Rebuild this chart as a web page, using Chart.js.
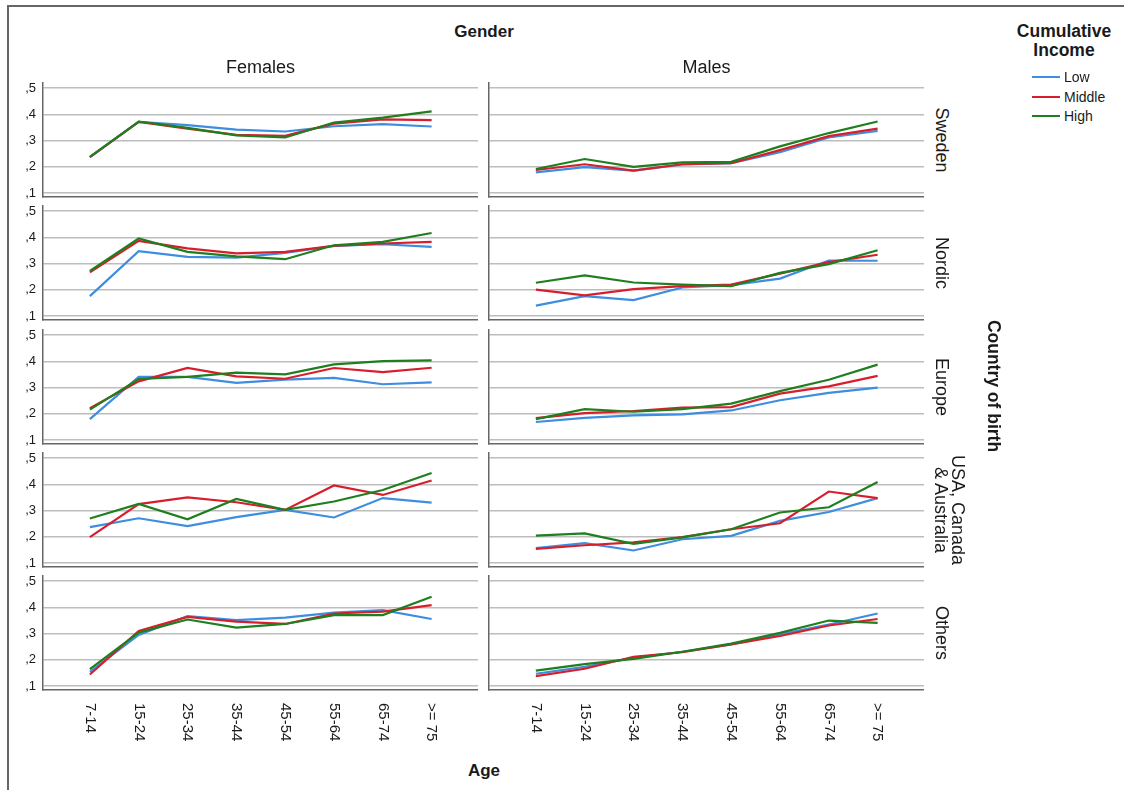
<!DOCTYPE html>
<html>
<head>
<meta charset="utf-8">
<script src="https://cdn.jsdelivr.net/npm/chart.js@4.4.1/dist/chart.umd.min.js"></script>
<style>
  body { margin: 0; width: 1130px; height: 790px; background: #fff; position: relative; overflow: hidden;
         font-family: "Liberation Sans", Arial, sans-serif; color: #1a1a1a; }
  .frame { position: absolute; left: 7px; top: 5px; width: 1115px; height: 820px;
           border-left: 2px solid #666; border-top: 2px solid #666; }
  canvas.panel { position: absolute; }
  .txt { position: absolute; white-space: nowrap; line-height: 1; }
  .ctr { transform: translate(-50%, -50%); text-align: center; }
  .rot { transform: translate(-50%, -50%) rotate(90deg); text-align: center; }
  .bold { font-weight: bold; }
  .key { position: absolute; width: 28px; height: 2px; }
</style>
</head>
<body>
<div class="frame"></div>
<div id="app"></div>

<script>
// categories
const AGE_GROUPS = ['7-14', '15-24', '25-34', '35-44', '45-54', '55-64', '65-74', '>= 75'];
const GENDERS = ['Females', 'Males'];
const COUNTRIES = ['Sweden', 'Nordic', 'Europe', 'USA, Canada\n& Australia', 'Others'];
const INCOME_LEVELS = ['Low', 'Middle', 'High'];
const Y_TICKS = [0.1, 0.2, 0.3, 0.4, 0.5];

const INCOME_COLORS = {
  Low: '#3d8ee0',
  Middle: '#d81e2c',
  High: '#1f7f1f'
};

// Sweden
const swedenF_low = [0.237, 0.372, 0.359, 0.342, 0.335, 0.355, 0.363, 0.354];
const swedenF_mid = [0.237, 0.372, 0.346, 0.322, 0.318, 0.365, 0.381, 0.378];
const swedenF_high = [0.238, 0.373, 0.349, 0.320, 0.312, 0.369, 0.388, 0.412];
const swedenM_low = [0.179, 0.199, 0.186, 0.209, 0.214, 0.256, 0.312, 0.337];
const swedenM_mid = [0.188, 0.210, 0.186, 0.210, 0.214, 0.264, 0.317, 0.346];
const swedenM_high = [0.192, 0.230, 0.200, 0.217, 0.219, 0.278, 0.329, 0.373];

// Nordic
const nordicF_low = [0.176, 0.348, 0.326, 0.323, 0.341, 0.368, 0.374, 0.364];
const nordicF_mid = [0.267, 0.387, 0.358, 0.339, 0.345, 0.368, 0.377, 0.383];
const nordicF_high = [0.272, 0.396, 0.345, 0.328, 0.317, 0.370, 0.383, 0.417];
const nordicM_low = [0.140, 0.176, 0.161, 0.209, 0.218, 0.243, 0.312, 0.311];
const nordicM_mid = [0.201, 0.179, 0.203, 0.214, 0.220, 0.262, 0.306, 0.334];
const nordicM_high = [0.227, 0.255, 0.228, 0.220, 0.214, 0.265, 0.298, 0.351];

// Europe
const europeF_low = [0.180, 0.341, 0.341, 0.318, 0.331, 0.337, 0.313, 0.320];
const europeF_mid = [0.222, 0.324, 0.375, 0.343, 0.334, 0.375, 0.359, 0.376];
const europeF_high = [0.216, 0.333, 0.341, 0.357, 0.351, 0.389, 0.401, 0.404];
const europeM_low = [0.169, 0.185, 0.194, 0.198, 0.213, 0.252, 0.280, 0.300];
const europeM_mid = [0.184, 0.203, 0.211, 0.224, 0.226, 0.277, 0.305, 0.345];
const europeM_high = [0.180, 0.218, 0.208, 0.218, 0.239, 0.287, 0.330, 0.388];

// USA, Canada & Australia
const usaF_low = [0.237, 0.271, 0.241, 0.275, 0.303, 0.274, 0.348, 0.331];
const usaF_mid = [0.199, 0.325, 0.351, 0.332, 0.303, 0.396, 0.360, 0.415];
const usaF_high = [0.270, 0.326, 0.267, 0.345, 0.303, 0.335, 0.379, 0.444];
const usaM_low = [0.157, 0.176, 0.148, 0.191, 0.204, 0.261, 0.295, 0.348];
const usaM_mid = [0.154, 0.168, 0.179, 0.199, 0.229, 0.252, 0.373, 0.348];
const usaM_high = [0.205, 0.213, 0.173, 0.198, 0.229, 0.293, 0.313, 0.409];

// Others
const othersF_low = [0.154, 0.295, 0.367, 0.352, 0.361, 0.380, 0.390, 0.356];
const othersF_mid = [0.144, 0.310, 0.364, 0.346, 0.337, 0.377, 0.384, 0.409];
const othersF_high = [0.165, 0.304, 0.354, 0.323, 0.337, 0.371, 0.371, 0.441];
const othersM_low = [0.147, 0.173, 0.208, 0.231, 0.259, 0.297, 0.335, 0.377];
const othersM_mid = [0.138, 0.166, 0.212, 0.229, 0.259, 0.291, 0.331, 0.356];
const othersM_high = [0.159, 0.184, 0.204, 0.231, 0.262, 0.303, 0.350, 0.341];

// [row][col] -> [low, middle, high]
const PANEL_DATA = [
  [[swedenF_low, swedenF_mid, swedenF_high], [swedenM_low, swedenM_mid, swedenM_high]],
  [[nordicF_low, nordicF_mid, nordicF_high], [nordicM_low, nordicM_mid, nordicM_high]],
  [[europeF_low, europeF_mid, europeF_high], [europeM_low, europeM_mid, europeM_high]],
  [[usaF_low, usaF_mid, usaF_high], [usaM_low, usaM_mid, usaM_high]],
  [[othersF_low, othersF_mid, othersF_high], [othersM_low, othersM_mid, othersM_high]]
];

// layout
const ROW_TOPS = [83, 206, 330, 453, 576];
const PLOT_H = 114;
const COLS = [
  { canvasLeft: 8, plotLeft: 43, plotRight: 478 },
  { canvasLeft: 484, plotLeft: 489, plotRight: 924 }
];
const FONT = '"Liberation Sans", Arial, sans-serif';

const app = document.getElementById('app');

function addText(text, x, y, size, cls) {
  const el = document.createElement('div');
  el.className = 'txt ' + cls;
  el.style.left = x + 'px';
  el.style.top = y + 'px';
  el.style.fontSize = size + 'px';
  el.innerHTML = text.replace(/&/g, '&amp;').replace(/>/g, '&gt;').replace(/\n/g, '<br>');
  app.appendChild(el);
  return el;
}

// age labels under the bottom row, rotated to read top-to-bottom
const xLabelPlugin = {
  id: 'xLabels',
  afterDraw(chart, args, opts) {
    if (!opts.show) return;
    const { ctx, chartArea } = chart;
    const x = chart.scales.x;
    ctx.save();
    ctx.font = '15px ' + FONT;
    ctx.fillStyle = '#1a1a1a';
    ctx.textAlign = 'left';
    ctx.textBaseline = 'middle';
    AGE_GROUPS.forEach((lab, i) => {
      ctx.save();
      ctx.translate(x.getPixelForValue(i), chartArea.bottom + 13);
      ctx.rotate(Math.PI / 2);
      ctx.fillText(lab, 0, 0);
      ctx.restore();
    });
    ctx.restore();
  }
};

function makePanel(row, col) {
  const c = COLS[col];
  const padTop = 10;
  const padBottom = row === ROW_TOPS.length - 1 ? 70 : 3;
  const canvas = document.createElement('canvas');
  canvas.className = 'panel';
  canvas.width = c.plotRight - c.canvasLeft;
  canvas.height = PLOT_H + padTop + padBottom;
  canvas.style.left = c.canvasLeft + 'px';
  canvas.style.top = (ROW_TOPS[row] - padTop) + 'px';
  app.appendChild(canvas);

  const series = PANEL_DATA[row][col];
  const datasets = INCOME_LEVELS.map((level, k) => ({
    label: level,
    data: series[k].map((v, i) => ({ x: i, y: v })),
    borderColor: INCOME_COLORS[level],
    backgroundColor: INCOME_COLORS[level],
    borderWidth: 2.2,
    pointRadius: 0,
    tension: 0,
    order: INCOME_LEVELS.length - k
  }));

  new Chart(canvas, {
    type: 'line',
    data: { datasets },
    options: {
      responsive: false,
      animation: false,
      events: [],
      layout: { padding: { top: padTop, bottom: padBottom, left: 0, right: 0 } },
      plugins: {
        legend: { display: false },
        tooltip: { enabled: false },
        xLabels: { show: row === ROW_TOPS.length - 1 }
      },
      scales: {
        x: {
          type: 'linear',
          min: -0.96,
          max: 7.95,
          grid: { display: false },
          border: { display: true, color: '#666', width: 1.5 },
          ticks: { display: false },
          afterFit: s => { s.height = 0; s.paddingLeft = 0; s.paddingRight = 0; }
        },
        y: {
          min: 0.085,
          max: 0.52,
          afterBuildTicks: s => { s.ticks = Y_TICKS.map(v => ({ value: v })); },
          grid: { color: '#bdbdbd', lineWidth: 1.5, drawTicks: false },
          border: { display: true, color: '#666', width: 1.5 },
          ticks: {
            display: col === 0,
            padding: 7,
            color: '#1a1a1a',
            font: { family: FONT, size: 13 },
            callback: v => ',' + Math.round(v * 10)
          },
          afterFit: s => { s.width = c.plotLeft - c.canvasLeft; s.paddingTop = 0; s.paddingBottom = 0; }
        }
      }
    },
    plugins: [xLabelPlugin]
  });
}

for (let r = 0; r < ROW_TOPS.length; r++) {
  for (let col = 0; col < COLS.length; col++) makePanel(r, col);
}

// titles
addText('Gender', 484, 31, 17, 'bold ctr');
GENDERS.forEach((g, i) => {
  const c = COLS[i];
  addText(g, (c.plotLeft + c.plotRight) / 2, 67, 18, 'ctr');
});
COUNTRIES.forEach((name, r) => {
  const twoLines = name.indexOf('\n') >= 0;
  const el = addText(name, twoLines ? 949 : 942, ROW_TOPS[r] + PLOT_H / 2, 18, 'rot');
  if (twoLines) el.style.lineHeight = '17px';
});
addText('Country of birth', 993, 386, 17.5, 'bold rot');
addText('Age', 484, 770, 17, 'bold ctr');

// legend
addText('Cumulative\nIncome', 1064, 41, 17.5, 'bold ctr').style.lineHeight = '19px';
INCOME_LEVELS.forEach((level, i) => {
  const y = 77 + i * 19.5;
  const key = document.createElement('div');
  key.className = 'key';
  key.style.left = '1032px';
  key.style.top = (y - 1) + 'px';
  key.style.background = INCOME_COLORS[level];
  app.appendChild(key);
  const t = addText(level, 1064, y, 14, '');
  t.style.transform = 'translateY(-50%)';
});
</script>
</body>
</html>
